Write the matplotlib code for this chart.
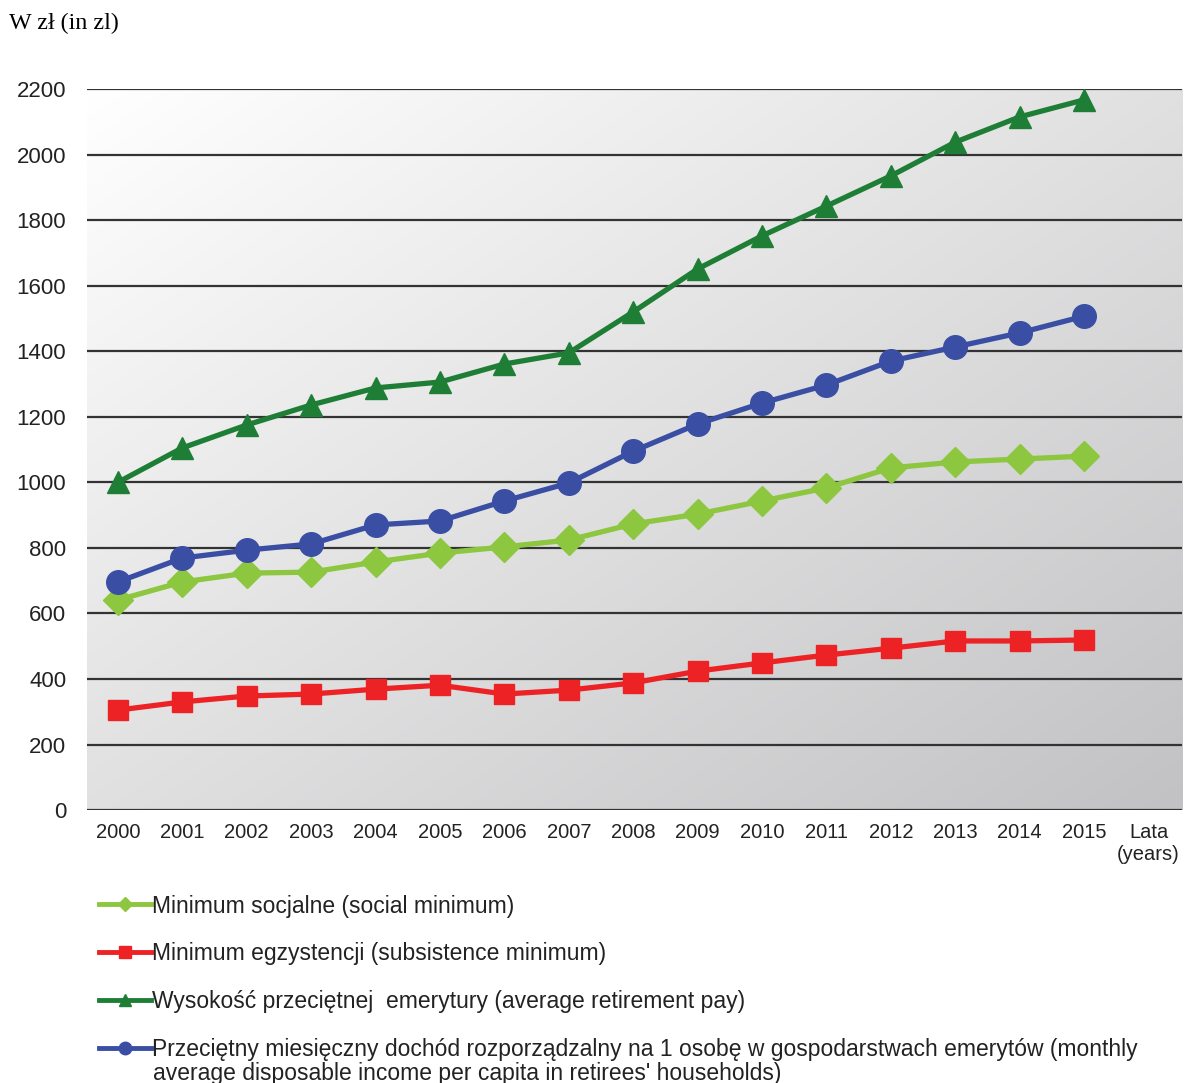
import numpy as np
import matplotlib
matplotlib.use('Agg')
import matplotlib.pyplot as plt
from matplotlib.lines import Line2D
from matplotlib.colors import LinearSegmentedColormap

years = ['2000', '2001', '2002', '2003', '2004', '2005', '2006', '2007',
         '2008', '2009', '2010', '2011', '2012', '2013', '2014', '2015']
x_labels = years + ['Lata\n(years)']

social_min = [641, 696, 723, 726, 757, 784, 803, 824, 873, 903, 943, 983, 1044, 1062, 1071, 1080]
subsist_min = [305, 330, 348, 354, 369, 381, 354, 366, 388, 424, 449, 473, 494, 516, 516, 519]
retire_pay = [1000, 1105, 1175, 1236, 1288, 1306, 1361, 1395, 1520, 1651, 1752, 1843, 1935, 2038, 2115, 2167]
income = [696, 769, 793, 812, 870, 882, 943, 998, 1095, 1178, 1242, 1297, 1370, 1413, 1456, 1507]

labels = ['Minimum socjalne (social minimum)',
          'Minimum egzystencji (subsistence minimum)',
          'Wysokość przeciętnej  emerytury (average retirement pay)',
          'Przeciętny miesięczny dochód rozporządzalny na 1 osobę w gospodarstwach emerytów (monthly']
label_cont = "average disposable income per capita in retirees' households)"

c_social = '#8dc63f'
c_subs = '#ed2224'
c_retire = '#1f7e36'
c_income = '#3a4fa4'

plt.rcParams['font.family'] = ['Liberation Sans', 'DejaVu Sans']

fig = plt.figure(figsize=(11.85, 10.83), dpi=100)
ax = fig.add_axes([0.0734, 0.252, 0.9241, 0.6658])

# gradient background
gx, gy = np.meshgrid(np.linspace(0, 1, 300), np.linspace(0, 1, 300))
grad = 0.5 * (gx + gy)
cmap = LinearSegmentedColormap.from_list('bg', ['#ffffff', '#c2c2c4'])
ax.imshow(grad, extent=[0, 1, 0, 1], transform=ax.transAxes, cmap=cmap,
          origin='upper', aspect='auto', zorder=0)

xs = np.arange(len(years))
ax.plot(xs, social_min, color=c_social, lw=3.8, marker='D', ms=15, zorder=3)
ax.plot(xs, subsist_min, color=c_subs, lw=3.8, marker='s', ms=15, zorder=3)
ax.plot(xs, retire_pay, color=c_retire, lw=3.8, marker='^', ms=16, zorder=3)
ax.plot(xs, income, color=c_income, lw=3.8, marker='o', ms=17, zorder=3)

ax.set_xlim(-0.48, 16.52)
ax.set_ylim(0, 2200)
ax.set_yticks(range(0, 2201, 200))
ax.set_xticks(range(len(x_labels)))
ax.set_xticklabels(x_labels, fontsize=14.5, color='#222222', linespacing=1.25)
ax.tick_params(axis='y', labelsize=16, colors='#222222', length=0, pad=15)
ax.tick_params(axis='x', length=0, pad=9)
ax.grid(axis='y', color='#333333', lw=1.6, zorder=1)
ax.set_axisbelow(False)
for s in ax.spines.values():
    s.set_visible(False)

fig.text(0.008, 0.978, 'W zł (in zl)', family='Liberation Serif', fontsize=17.3,
         va='center', ha='left')

handles = [
    Line2D([], [], color=c_social, lw=3.5, marker='D', ms=7),
    Line2D([], [], color=c_subs, lw=3.5, marker='s', ms=8),
    Line2D([], [], color=c_retire, lw=3.5, marker='^', ms=8),
    Line2D([], [], color=c_income, lw=3.5, marker='o', ms=9),
]
leg = fig.legend(handles, labels, loc='upper left', bbox_to_anchor=(0.0755, 0.1825),
                 frameon=False, fontsize=16.5, handlelength=2.3, handletextpad=0.05,
                 labelspacing=1.08, borderaxespad=0)
for t in leg.get_texts():
    t.set_color('#222222')
fig.text(0.129, 0.0085, label_cont, fontsize=16.5, color='#222222', va='center', ha='left')

fig.savefig('out.png', dpi=100)
